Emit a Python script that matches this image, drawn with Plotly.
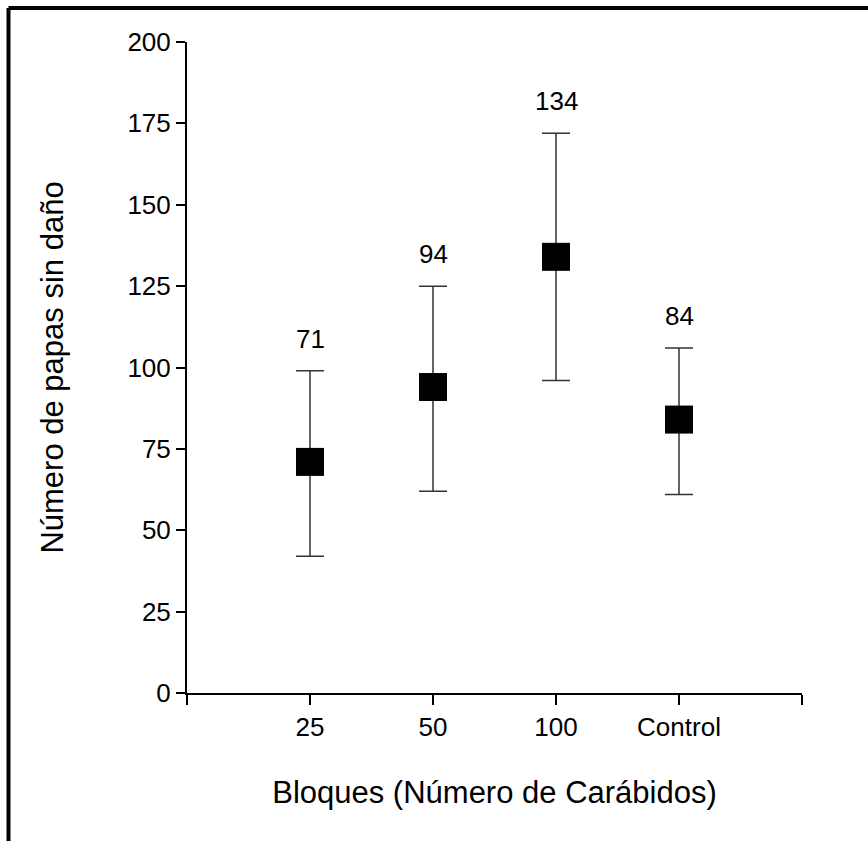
import plotly.graph_objects as go

categories = ["25", "50", "100", "Control"]
means = [71, 94, 134, 84]
upper = [99, 125, 172, 106]
lower = [42, 62, 96, 61]
yticks = [0, 25, 50, 75, 100, 125, 150, 175, 200]

xpos = list(range(len(categories)))
err_plus = [u - m for u, m in zip(upper, means)]
err_minus = [m - l for m, l in zip(means, lower)]

FONT = "Liberation Sans, Arial, sans-serif"

fig = go.Figure()
fig.add_trace(go.Scatter(
    x=xpos, y=means, mode="markers",
    marker=dict(symbol="square", size=28, color="black", line=dict(width=0)),
    error_y=dict(type="data", symmetric=False, array=err_plus, arrayminus=err_minus,
                 color="#333333", thickness=1.5, width=14),
    showlegend=False, cliponaxis=False,
))

for x, u, m in zip(xpos, upper, means):
    fig.add_annotation(x=x, y=u, text=str(m), showarrow=False, yanchor="bottom",
                       yshift=15, font=dict(size=26, color="black", family=FONT))

L, R, T, B = 187, 66, 42, 148
W, H = 868, 841
pw, ph = W - L - R, H - T - B
fx = lambda px: (px - L) / pw
fy = lambda py: (H - B - py) / ph

fig.add_shape(type="line", xref="paper", yref="paper", x0=fx(8.5), x1=fx(880), y0=fy(8), y1=fy(8),
              line=dict(color="black", width=4))
fig.add_shape(type="line", xref="paper", yref="paper", x0=fx(8.5), x1=fx(8.5), y0=fy(8), y1=fy(860),
              line=dict(color="black", width=4))

fig.update_layout(
    width=W, height=H,
    margin=dict(l=L, r=R, t=T, b=B, autoexpand=False),
    paper_bgcolor="white", plot_bgcolor="white",
    font=dict(family=FONT, color="black", size=26),
    xaxis=dict(
        range=[-1, 4], tickmode="array", tickvals=[-1] + xpos + [4],
        ticktext=[""] + categories + [""],
        showline=True, linecolor="black", linewidth=2,
        ticks="outside", ticklen=10, tickwidth=2, tickcolor="black",
        showgrid=False, zeroline=False,
        tickfont=dict(size=26),
        title=dict(text="Bloques (Número de Carábidos)", font=dict(size=31), standoff=40),
    ),
    yaxis=dict(
        range=[0, 200], tickmode="array", tickvals=yticks,
        showline=True, linecolor="black", linewidth=2,
        ticks="outside", ticklen=9, tickwidth=2, tickcolor="black",
        showgrid=False, zeroline=False,
        tickfont=dict(size=26),
        title=dict(text="Número de papas sin daño", font=dict(size=31), standoff=55),
    ),
)

fig.write_html("out.html")
